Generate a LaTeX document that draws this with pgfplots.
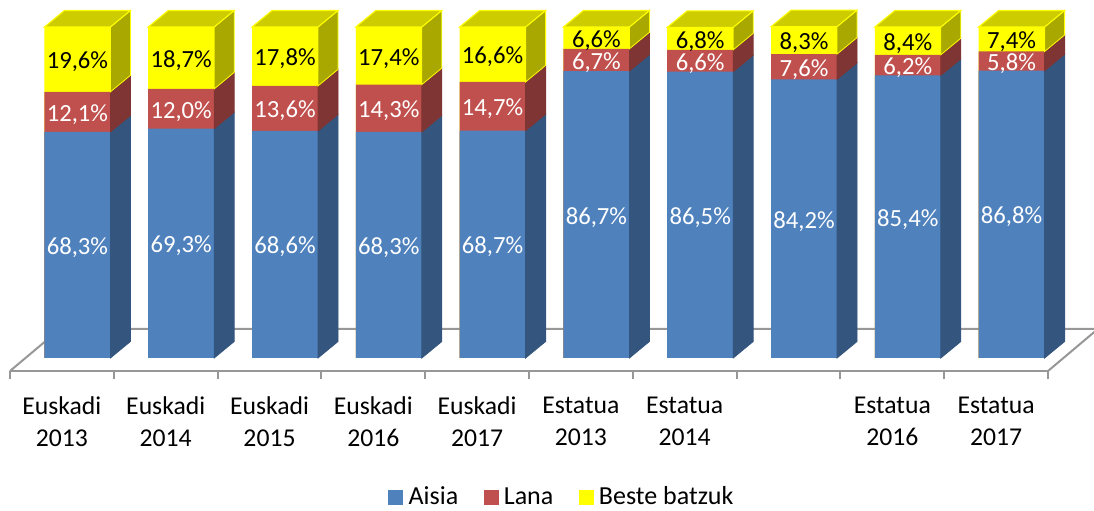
\documentclass[border=0pt]{standalone}
\usepackage{pgfplots}
\pgfplotsset{compat=1.18}
\usepackage{pgfplotstable}
\usepackage{fontspec}
\setmainfont{Carlito}
\definecolor{blueF}{HTML}{4F81BD}
\definecolor{blueS}{HTML}{34557D}
\definecolor{redF}{HTML}{C0504D}
\definecolor{redS}{HTML}{7F3533}
\definecolor{yelF}{HTML}{FFFF00}
\definecolor{yelS}{HTML}{A8A800}
\definecolor{yelT}{HTML}{CCCC00}
\definecolor{floorc}{HTML}{979797}
\newcommand\lbl{\fontsize{18.5}{22}\selectfont}
\newdimen\segH
\pgfdeclareplotmark{nothing}{}
\pgfplotstableread{
x a b c
0 68.3 12.1 19.6
1 69.3 12.0 18.7
2 68.6 13.6 17.8
3 68.3 14.3 17.4
4 68.7 14.7 16.6
5 86.7 6.7 6.6
6 86.5 6.6 6.8
7 84.2 7.6 8.3
8 85.4 6.2 8.4
9 86.8 5.8 7.4
}\data
\pgfplotsset{
  side/.style n args={3}{scatter, only marks, mark=nothing, forget plot,
    point meta=\thisrow{#1},
    visualization depends on={\thisrow{#1} \as \segh},
    scatter/@pre marker code/.code={%
      \pgfscope
      \pgfkeys{/pgf/fpu=true}%
      \pgfmathparse{\segh*2.4825}%
      \pgfmathfloattofixed{\pgfmathresult}%
      \segH=\pgfmathresult pt\relax
      \pgfkeys{/pgf/fpu=false}%
      \pgfpathmoveto{\pgfqpoint{36.375pt}{0pt}}%
      \pgfpathlineto{\pgfqpoint{36.375pt}{\segH}}%
      \pgfpathlineto{\pgfqpoint{51.375pt}{\dimexpr\segH+12.375pt\relax}}%
      \pgfpathlineto{\pgfqpoint{51.375pt}{12.375pt}}%
      \pgfpathclose
      \pgfsetfillcolor{#2}%
      \pgfsetstrokecolor{#3}%
      \pgfsetlinewidth{0.6pt}%
      \pgfusepath{fill,stroke}%
      \endpgfscope
    },
    scatter/@post marker code/.code={},
  },
  topface/.style={scatter, only marks, mark=nothing, forget plot,
    point meta=\thisrow{c},
    scatter/@pre marker code/.code={%
      \pgfscope
      \pgfpathmoveto{\pgfqpoint{-13.125pt}{0pt}}%
      \pgfpathlineto{\pgfqpoint{36.375pt}{0pt}}%
      \pgfpathlineto{\pgfqpoint{51.375pt}{12.375pt}}%
      \pgfpathlineto{\pgfqpoint{1.875pt}{12.375pt}}%
      \pgfpathclose
      \pgfsetfillcolor{yelT}%
      \pgfsetstrokecolor{yelF}%
      \pgfsetlinewidth{0.8pt}%
      \pgfusepath{fill,stroke}%
      \endpgfscope
    },
    scatter/@post marker code/.code={},
  },
  front/.style={ybar, bar width=49.5pt, bar shift=11.625pt, forget plot, draw=none, fill=#1},
  vlabel/.style={forget plot, only marks, mark=nothing, point meta=\thisrow{#1},
    nodes near coords={\pgfmathprintnumber[fixed, fixed zerofill, precision=1, use comma, assume math mode=true]{\pgfplotspointmeta}\%},
    every node near coord/.append style={anchor=center, font=\lbl, inner sep=0pt, yshift=-2pt}},
  sqleg/.style={legend image code/.code={\fill[#1] (0pt,-5.25pt) rectangle (10.5pt,5.25pt); \path[draw=none, fill=none] (0pt,-1pt) rectangle (13pt,1pt);}},
}
\begin{document}
\begin{tikzpicture}
\begin{axis}[
  at={(0,0)}, anchor=south west,
  x=77.85pt, y=2.4825pt,
  xmin=-0.5, xmax=9.5, ymin=-3.93, ymax=104.8,
  enlargelimits=false, clip=false, set layers,
  axis x line*=bottom, axis y line=none,
  x axis line style={floorc, line width=1.5pt, -},
  xtick={0,...,9},
  xticklabels={{Euskadi\\2013},{Euskadi\\2014},{Euskadi\\2015},{Euskadi\\2016},{Euskadi\\2017},{Estatua\\2013},{Estatua\\2014},{},{Estatua\\2016},{Estatua\\2017}},
  minor xtick={-0.5,0.5,...,9.5},
  major tick length=0pt, minor tick length=6pt,
  tick align=outside,
  tick style={floorc, line width=1.5pt},
  xticklabel style={font=\fontsize{19.25}{24}\selectfont, align=center, text=black, yshift=-16pt},
  legend style={at={(0.532,-0.350)}, anchor=center, draw=none, fill=none,
    legend columns=3, font=\fontsize{19.5}{22}\selectfont,
    /tikz/every even column/.append style={column sep=17pt}},
  legend cell align=left,
]
\addlegendimage{sqleg=blueF}
\addlegendentry{Aisia}
\addlegendimage{sqleg=redF}
\addlegendentry{Lana}
\addlegendimage{sqleg=yelF}
\addlegendentry{Beste batzuk}

\draw[on layer=axis background, floorc, line width=1.5pt]
  (axis cs:-0.5,-3.93) -- (axis cs:-0.0183,8.76) -- (axis cs:9.98,8.76) -- (axis cs:9.5,-3.93);

% front faces (cumulative, drawn back to front)
\addplot[front=yelF] table[x=x, y expr=\thisrow{a}+\thisrow{b}+\thisrow{c}] {\data};
\addplot[front=redF] table[x=x, y expr=\thisrow{a}+\thisrow{b}] {\data};
\addplot[front=blueF] table[x=x, y=a] {\data};
% side faces
\addplot[side={a}{blueS}{blueS}] table[x=x, y expr=0] {\data};
\addplot[side={b}{redS}{redS}] table[x=x, y=a] {\data};
\addplot[side={c}{yelS}{yelF}] table[x=x, y expr=\thisrow{a}+\thisrow{b}] {\data};
% top faces
\addplot[topface] table[x=x, y expr=\thisrow{a}+\thisrow{b}+\thisrow{c}] {\data};
% labels
\addplot[vlabel=a, every node near coord/.append style={text=white}]
  table[x expr=\thisrow{x}+0.1493, y expr=\thisrow{a}/2] {\data};
\addplot[vlabel=b, every node near coord/.append style={text=white}]
  table[x expr=\thisrow{x}+0.1493, y expr=\thisrow{a}+\thisrow{b}/2] {\data};
\addplot[vlabel=c, every node near coord/.append style={text=black}]
  table[x expr=\thisrow{x}+0.1493, y expr=\thisrow{a}+\thisrow{b}+\thisrow{c}/2] {\data};
\end{axis}
\pgfresetboundingbox
\path[use as bounding box] (-7.5pt,-104.25pt) rectangle (813pt,278.25pt);
\end{tikzpicture}
\end{document}
